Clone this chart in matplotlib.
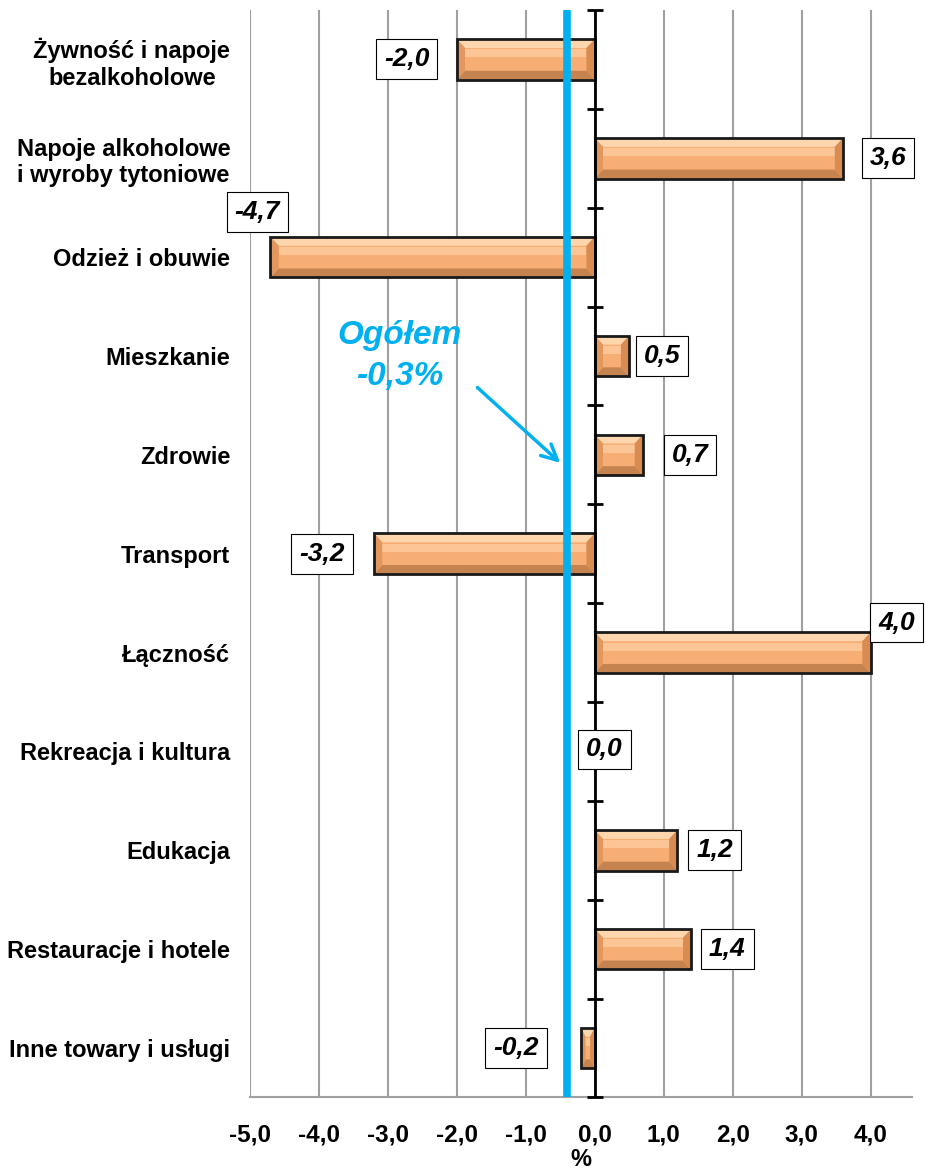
import numpy as np
import matplotlib
matplotlib.use('Agg')
import matplotlib.pyplot as plt
from matplotlib.patches import Polygon, Rectangle

plt.rcParams['font.family'] = ['Liberation Sans', 'DejaVu Sans']

categories = ['Żywność i napoje\nbezalkoholowe', 'Napoje alkoholowe\ni wyroby tytoniowe',
              'Odzież i obuwie', 'Mieszkanie', 'Zdrowie', 'Transport', 'Łączność',
              'Rekreacja i kultura', 'Edukacja', 'Restauracje i hotele', 'Inne towary i usługi']
values = [-2.0, 3.6, -4.7, 0.5, 0.7, -3.2, 4.0, 0.0, 1.2, 1.4, -0.2]
total = -0.3
total_line_x = -0.4   # where the line is drawn in the original
xticks = [-5.0, -4.0, -3.0, -2.0, -1.0, 0.0, 1.0, 2.0, 3.0, 4.0]

# label box offsets (pixels) from bar end
lab_dx = [-50, 45, -13, 33, 47, -52, 26, 10, 37, 36, -65]
lab_dy = [0, 0, 45, 0, 0, 0, 30, 2, 0, 0, 0]

blue = '#00B0F0'
fig = plt.figure(figsize=(9.25, 11.7), dpi=100)
ax = fig.add_axes([0.270, 0.062, 0.716, 0.9295])

y = np.arange(len(values))
h = 0.41
ax.set_xlim(-5.0, 4.6)
ax.set_ylim(len(values) - 0.5, -0.5)

for g in xticks:
    ax.axvline(g, color='#A0A0A0', lw=1.5, zorder=0)

# bevelled bars
for yi, v in zip(y, values):
    if v == 0:
        continue
    x0, x1 = min(0, v), max(0, v)
    y0, y1 = yi - h / 2, yi + h / 2
    bx = min(0.12, (x1 - x0) / 3)
    by = 0.09
    ax.add_patch(Rectangle((x0, y0), x1 - x0, h, fc='#F7AE74', ec='none', zorder=2))
    ax.add_patch(Rectangle((x0 + bx, y0 + by + 0.015), x1 - x0 - 2 * bx, 0.08,
                           fc='#FBC596', ec='none', zorder=2))
    ax.add_patch(Polygon([(x0, y0), (x1, y0), (x1 - bx, y0 + by), (x0 + bx, y0 + by)],
                         fc='#FDD6AE', ec='none', zorder=2))
    ax.add_patch(Polygon([(x0, y1), (x1, y1), (x1 - bx, y1 - by), (x0 + bx, y1 - by)],
                         fc='#C4834F', ec='none', zorder=2))
    ax.add_patch(Polygon([(x0, y0), (x0 + bx, y0 + by), (x0 + bx, y1 - by), (x0, y1)],
                         fc='#E3975C', ec='none', zorder=2))
    ax.add_patch(Polygon([(x1, y0), (x1 - bx, y0 + by), (x1 - bx, y1 - by), (x1, y1)],
                         fc='#D98C52', ec='none', zorder=2))
    ax.add_patch(Rectangle((x0, y0), x1 - x0, h, fc='none', ec='#1A1A1A', lw=2, zorder=3))

# zero axis with category ticks
ax.axvline(0, color='black', lw=2, zorder=4)
ax.plot(np.zeros(len(values) + 1), np.arange(len(values) + 1) - 0.5, ls='none',
        marker='_', ms=11, mew=2, color='black', zorder=4, clip_on=False)

# total line and note
ax.axvline(total_line_x, color=blue, lw=5.5, zorder=3)
ax.text(-2.83, 3.0, 'Ogółem\n' + f'{total:.1f}'.replace('.', ',') + '%', color=blue,
        fontsize=24, fontweight='bold', style='italic', ha='center', va='center',
        linespacing=1.4)
ax.annotate('', xy=(-0.47, 4.1), xytext=(-1.73, 3.3),
            arrowprops=dict(arrowstyle='->', color=blue, lw=2.5, mutation_scale=28))

# value labels
for yi, v, dx, dy in zip(y, values, lab_dx, lab_dy):
    ax.annotate(f'{v:.1f}'.replace('.', ','), xy=(v, yi), xytext=(dx, dy),
                textcoords='offset pixels', ha='center', va='center',
                fontsize=19, fontweight='bold', style='italic', zorder=6,
                bbox=dict(boxstyle='square,pad=0.3', fc='white', ec='black', lw=0.8))

ax.set_yticks(y)
ax.set_yticklabels(categories, fontsize=17, fontweight='bold', multialignment='center')
ax.tick_params(axis='y', length=0, pad=14)
ax.set_xticks(xticks)
ax.set_xticklabels([f'{t:.1f}'.replace('.', ',') for t in xticks], fontsize=17.5, fontweight='bold')
ax.tick_params(axis='x', length=0, pad=19)
ax.set_xlabel('%', fontsize=17, fontweight='bold', labelpad=1)

for s in ['top', 'right', 'left']:
    ax.spines[s].set_visible(False)
ax.spines['bottom'].set_color('#A0A0A0')
ax.spines['bottom'].set_linewidth(1.5)

fig.savefig('out.png', dpi=100)
